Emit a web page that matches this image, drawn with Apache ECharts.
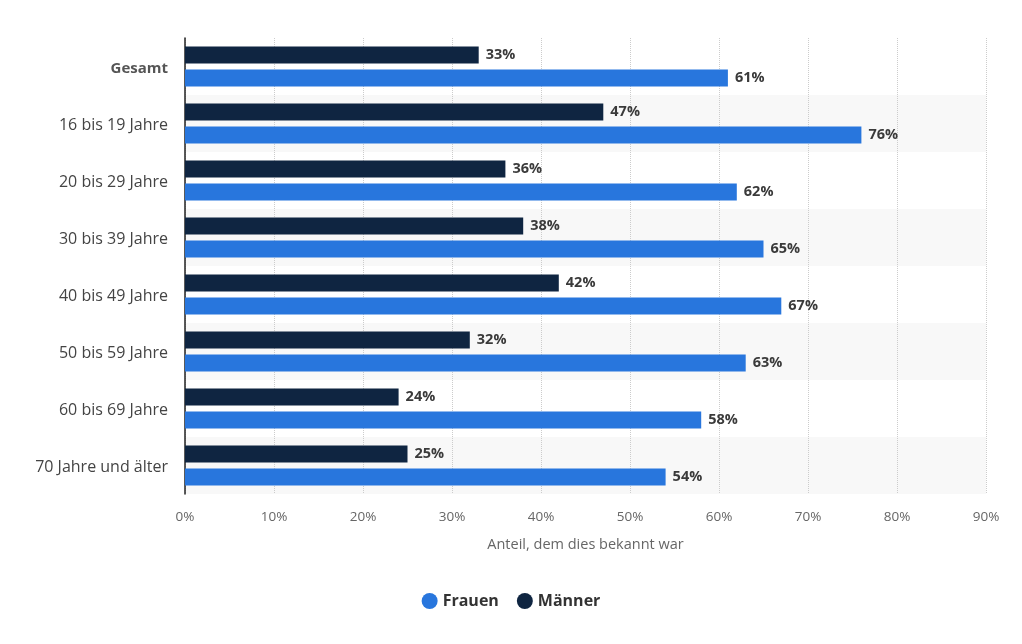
<!DOCTYPE html>
<html>
<head>
<meta charset="utf-8">
<script src="https://cdn.jsdelivr.net/npm/echarts@6/dist/echarts.min.js"></script>
<style>
html,body{margin:0;padding:0;background:#fff;}
#main{width:1022px;height:644px;}
</style>
</head>
<body>
<div id="main"></div>
<script>
var categories = ['Gesamt', '16 bis 19 Jahre', '20 bis 29 Jahre', '30 bis 39 Jahre', '40 bis 49 Jahre', '50 bis 59 Jahre', '60 bis 69 Jahre', '70 Jahre und älter'];
var maenner = [33, 47, 36, 38, 42, 32, 24, 25];
var frauen = [61, 76, 62, 65, 67, 63, 58, 54];
var xTicks = [0, 10, 20, 30, 40, 50, 60, 70, 80, 90];

var myChart = echarts.init(document.getElementById('main'));
var labelStyle = {
	show: true,
	position: 'right',
	distance: 7,
	formatter: '{c}%',
	color: '#3a3a3a',
	fontWeight: 'bold',
	fontSize: 14.5,
	fontFamily: 'Open Sans'
};
var option = {
	animation: false,
	textStyle: { fontFamily: 'Open Sans' },
	grid: {
		left: 185,
		right: 36,
		top: 38,
		bottom: 150
	},
	legend: {
		data: ['Frauen', 'Männer'],
		bottom: 30,
		left: 'center',
		icon: 'circle',
		itemWidth: 16,
		itemHeight: 16,
		itemGap: 18,
		textStyle: { color: '#333', fontSize: 16, fontWeight: 'bold' }
	},
	xAxis: {
		type: 'value',
		min: xTicks[0],
		max: xTicks[xTicks.length - 1],
		interval: 10,
		name: 'Anteil, dem dies bekannt war',
		nameLocation: 'middle',
		nameGap: 43,
		nameTextStyle: { color: '#666', fontSize: 14.5 },
		axisLine: { show: false },
		axisTick: { show: false },
		axisLabel: { formatter: '{value}%', color: '#666', fontSize: 13.5, margin: 16 },
		splitLine: { show: true, lineStyle: { color: '#ccc', type: 'dotted', width: 1 } }
	},
	yAxis: {
		type: 'category',
		data: categories,
		inverse: true,
		axisLine: { show: true, lineStyle: { color: '#222', width: 1.5 } },
		axisTick: { show: false },
		axisLabel: {
			color: '#444',
			fontSize: 16,
			margin: 17,
			padding: [4, 0, 0, 0],
			formatter: function (v) { return v === 'Gesamt' ? '{b|' + v + '}' : v; },
			rich: { b: { fontWeight: 'bold', fontSize: 15, color: '#555' } }
		},
		splitArea: { show: true, areaStyle: { color: ['rgba(255,255,255,0)', '#f8f8f8'] } }
	},
	series: [
		{
			name: 'Männer',
			type: 'bar',
			data: maenner,
			color: '#0f2541',
			barWidth: 17,
			barGap: '35%',
			label: labelStyle
		},
		{
			name: 'Frauen',
			type: 'bar',
			data: frauen,
			color: '#2876dd',
			barWidth: 17,
			label: labelStyle
		}
	]
};
myChart.setOption(option);
</script>
</body>
</html>
